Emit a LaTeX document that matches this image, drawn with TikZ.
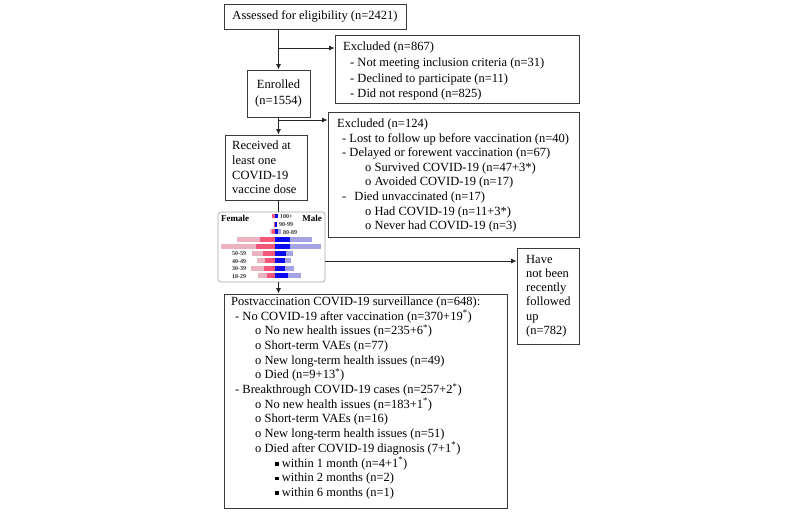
\documentclass[tikz,border=0pt]{standalone}
\usepackage{fontspec}
\setmainfont{Liberation Serif}
\usetikzlibrary{arrows.meta}
\definecolor{lpink}{HTML}{EBB3BF}
\definecolor{dpink}{HTML}{F2577A}
\definecolor{dblue}{HTML}{0A0AF0}
\definecolor{lblue}{HTML}{A3A3E6}
\definecolor{boxc}{HTML}{3A3A3A}
\newcommand{\sqb}{\rule[1.5pt]{3.5pt}{3.5pt}}
\begin{document}
\begin{tikzpicture}[x=1pt,y=-1pt,
  box/.style={draw=boxc, line width=0.9pt, rectangle, inner sep=0pt},
  ln/.style={anchor=mid west, inner sep=0pt, font=\fontsize{12.5}{14}\selectfont},
  cln/.style={anchor=mid, inner sep=0pt, font=\fontsize{12.5}{14}\selectfont},
  conn/.style={draw=black!85, line width=0.8pt},
  arr/.style={conn, -{Latex[length=5.5pt,width=5pt]}},
  agel/.style={anchor=mid west, inner sep=0pt, font=\fontsize{6}{7}\bfseries\selectfont, text=black!80},
  sexl/.style={inner sep=0pt, font=\fontsize{9}{10}\bfseries\selectfont}]
\useasboundingbox (0,0) rectangle (800,512);

% boxes
\node[box, minimum width=182pt, minimum height=25pt] (assess) at (315,16.5) {};
\node[box, minimum width=244pt, minimum height=68pt] (ex1) at (457,69) {};
\node[box, minimum width=63pt, minimum height=47pt] (enr) at (278.5,93.5) {};
\node[box, minimum width=82pt, minimum height=65pt] (rec) at (266,167.5) {};
\node[box, minimum width=251pt, minimum height=125pt] (ex2) at (453.5,174.5) {};
\node[draw=black!35, line width=0.7pt, rounded corners=3pt, minimum width=107pt, minimum height=70pt, inner sep=0pt] (chart) at (271.5,247) {};
\node[box, minimum width=62pt, minimum height=96pt] (have) at (548,296) {};
\node[box, minimum width=283pt, minimum height=214pt] (post) at (365.5,401) {};

% texts
\node[cln] (t-assess) at (315,17) {Assessed for eligibility (n=2421)};

\node[ln] (e1a) at (343,48) {Excluded (n=867)};
\node[ln] (e1b) at (350,64) {- Not meeting inclusion criteria (n=31)};
\node[ln] (e1c) at (350,80) {- Declined to participate (n=11)};
\node[ln] (e1d) at (350,95) {- Did not respond (n=825)};

\node[cln] (enr1) at (278.5,86) {Enrolled};
\node[cln] (enr2) at (278.5,102) {(n=1554)};

\node[ln] (r1) at (232,147) {Received at};
\node[ln] (r2) at (232,162) {least one};
\node[ln] (r3) at (232,177) {COVID-19};
\node[ln] (r4) at (232,191) {vaccine dose};

\node[ln] (e2a) at (337,125) {Excluded (n=124)};
\node[ln] (e2b) at (342,140) {- Lost to follow up before vaccination (n=40)};
\node[ln] (e2c) at (342,154) {- Delayed or forewent vaccination (n=67)};
\node[ln] (e2d) at (365,169) {o Survived COVID-19 (n=47+3*)};
\node[ln] (e2e) at (365,183) {o Avoided COVID-19 (n=17)};
\node[ln] (e2f) at (342,198) {-\hspace{5pt} Died unvaccinated (n=17)};
\node[ln] (e2g) at (365,213) {o Had COVID-19 (n=11+3*)};
\node[ln] (e2h) at (365,227) {o Never had COVID-19 (n=3)};

\node[ln] (h1) at (526,261) {Have};
\node[ln] (h2) at (526,275) {not been};
\node[ln] (h3) at (526,289) {recently};
\node[ln] (h4) at (526,303) {followed};
\node[ln] (h5) at (526,318) {up};
\node[ln] (h6) at (526,332) {(n=782)};

\foreach \x/\t [count=\i from 0] in {
  231/Postvaccination COVID-19 surveillance (n=648):,
  235/- No COVID-19 after vaccination (n=370+19\textsuperscript{*}),
  255/o No new health issues (n=235+6\textsuperscript{*}),
  255/o Short-term VAEs (n=77),
  255/o New long-term health issues (n=49),
  255/o Died (n=9+13\textsuperscript{*}),
  235/- Breakthrough COVID-19 cases (n=257+2\textsuperscript{*}),
  255/o No new health issues (n=183+1\textsuperscript{*}),
  255/o Short-term VAEs (n=16),
  255/o New long-term health issues (n=51),
  255/o Died after COVID-19 diagnosis (7+1\textsuperscript{*}),
  275/\sqb\ within 1 month (n=4+1\textsuperscript{*}),
  275/\sqb\ within 2 months (n=2),
  275/\sqb\ within 6 months (n=1)}
  { \node[ln] (p\i) at (\x,{303+14.7*\i}) {\t}; }

% pyramid chart
\foreach \ya/\yb/\a/\b/\c/\d in {
  214/218/272/272/278/278,
  222/227/274/274/277/277,
  229/234/270/272/278/281,
  237/242/237/260/290/312,
  244/249/221/256/290/321,
  251/256/252/263/286/293,
  258/263/257/265/285/291,
  266/271/251/264/285/294,
  273/278/258/267/288/301}
{
  \fill[lpink] (\a,\ya) rectangle (\b,\yb);
  \fill[dpink] (\b,\ya) rectangle (275,\yb);
  \fill[dblue] (275,\ya) rectangle (\c,\yb);
  \fill[lblue] (\c,\ya) rectangle (\d,\yb);
}
\node[sexl, anchor=mid west] (fem) at (221,219) {Female};
\node[sexl, anchor=mid east] (mal) at (322,219) {Male};
\node[agel] (a100) at (280,216) {100+};
\node[agel] (a90) at (279,224.5) {90-99};
\node[agel] (a80) at (283,232) {80-89};
\node[agel] (a50) at (232,253.5) {50-59};
\node[agel] (a40) at (232,261) {40-49};
\node[agel] (a30) at (232,268.5) {30-39};
\node[agel] (a18) at (232,276) {18-29};

% connectors
\coordinate (b1) at (278.5,48);
\coordinate (b2) at (278.5,120);
\coordinate (b3) at (300,261);
\draw[arr] (assess.south -| enr) -- (enr.north);
\draw[arr] (b1) -- (b1 -| ex1.west);
\draw[arr] (enr.south) -- (enr.south |- rec.north);
\draw[arr] (b2) -- (b2 -| ex2.west);
\draw[conn] (rec.south -| enr) -- (chart.north -| enr);
\draw[arr] (chart.south -| enr) -- (post.north -| enr);
\draw[arr] (b3 -| chart.east) -- (b3 -| have.west);
\end{tikzpicture}
\end{document}
